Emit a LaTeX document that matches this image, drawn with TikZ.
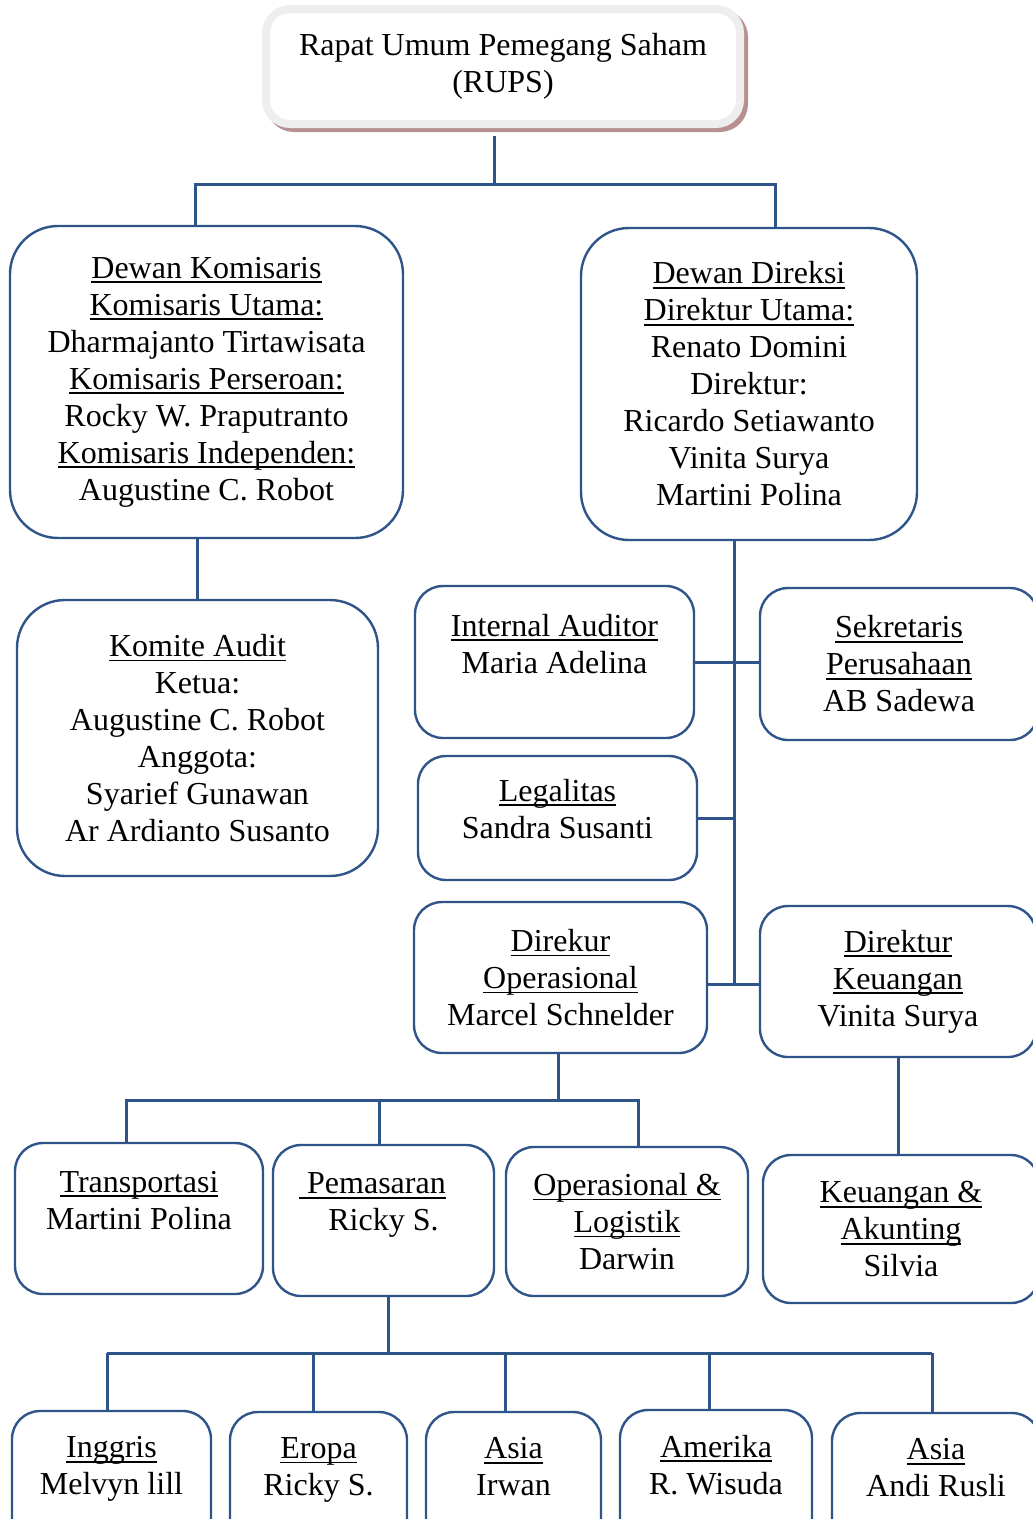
\documentclass[tikz,border=0pt]{standalone}
\usepackage{fontspec}
\setmainfont{Liberation Serif}
\usepackage{tikz}
\usetikzlibrary{shadows}

\definecolor{orgblue}{RGB}{47,84,138}
\definecolor{rupsrim}{RGB}{238,238,238}
\definecolor{rupsshadow}{RGB}{184,144,144}

\newsavebox{\ttlbox}
\newcommand{\ttl}[1]{\sbox{\ttlbox}{#1}\rlap{\rule[-5pt]{\wd\ttlbox}{1.8pt}}\usebox{\ttlbox}}

\tikzset{
  unit/.style={draw=orgblue, line width=2.4pt, fill=white, rounded corners=28pt,
    align=center, inner sep=0pt},
  bigunit/.style={unit, rounded corners=48pt},
  rupsbox/.style={draw=rupsrim, line width=8pt, fill=white, rounded corners=24pt,
    align=center, inner sep=0pt,
    drop shadow={shadow xshift=4pt, shadow yshift=-4pt, draw=rupsshadow,
      line width=8pt, fill=rupsshadow, opacity=1}},
  conn/.style={draw=orgblue, line width=3pt}
}

\begin{document}
\begin{tikzpicture}[x=1pt, y=-1pt, font=\fontsize{32}{37}\selectfont]
    \clip (0,0) rectangle (1033,1519);

    \node [rupsbox, minimum width=474, minimum height=115] (rups) at (503,66.5)
      {Rapat Umum Pemegang Saham\\(RUPS)};

    % boards
    \node [bigunit, minimum width=393, minimum height=312] (komisaris) at (206.5,382)
      {\ttl{Dewan Komisaris}\\\ttl{Komisaris Utama:}\\Dharmajanto Tirtawisata\\
       \ttl{Komisaris Perseroan:}\\Rocky W. Praputranto\\\ttl{Komisaris Independen:}\\
       Augustine C. Robot};
    \node [bigunit, minimum width=336, minimum height=312] (direksi) at (749,384)
      {\ttl{Dewan Direksi}\\\ttl{Direktur Utama:}\\Renato Domini\\Direktur:\\
       Ricardo Setiawanto\\Vinita Surya\\Martini Polina};
    \node [bigunit, minimum width=361, minimum height=276] (komite) at (197.5,738)
      {\ttl{Komite Audit}\\Ketua:\\Augustine C. Robot\\Anggota:\\Syarief Gunawan\\
       Ar Ardianto Susanto};

    % staff of the board of directors
    \node [unit, minimum width=279, minimum height=152] (intaud) at (554.5,662)
      {\ttl{Internal Auditor}\\Maria Adelina\\~};
    \node [unit, minimum width=278, minimum height=152] (sekre) at (899,664)
      {\ttl{Sekretaris}\\\ttl{Perusahaan}\\AB Sadewa};
    \node [unit, minimum width=279, minimum height=124] (legal) at (557.5,818)
      {\ttl{Legalitas}\\Sandra Susanti\\[-18pt]~};
    \node [unit, minimum width=293, minimum height=151] (dirops) at (560.5,977.5)
      {\ttl{Direkur}\\\ttl{Operasional}\\Marcel Schnelder};
    \node [unit, minimum width=276, minimum height=151] (dirkeu) at (898,981.5)
      {\ttl{Direktur}\\\ttl{Keuangan}\\Vinita Surya};

    % departments
    \node [unit, minimum width=248, minimum height=151] (transp) at (139,1218.5)
      {\ttl{Transportasi}\\Martini Polina\\~};
    \node [unit, minimum width=221, minimum height=151] (pemas) at (383.5,1220.5)
      {\ttl{\ Pemasaran}\hspace*{22pt}\\Ricky S.\\~};
    \node [unit, minimum width=242, minimum height=149] (oplog) at (627,1221.5)
      {\ttl{Operasional \&}\\\ttl{Logistik}\\Darwin};
    \node [unit, minimum width=276, minimum height=148] (keuak) at (901,1229)
      {\ttl{Keuangan \&}\\\ttl{Akunting}\\Silvia};

    % regions
    \node [unit, minimum width=199, minimum height=146] (inggris) at (111.5,1484)
      {\ttl{Inggris}\\Melvyn lill\\~};
    \node [unit, minimum width=177, minimum height=146] (eropa) at (318.5,1485)
      {\ttl{Eropa}\\Ricky S.\\~};
    \node [unit, minimum width=175, minimum height=146] (asiaA) at (513.5,1485)
      {\ttl{Asia}\\Irwan\\~};
    \node [unit, minimum width=192, minimum height=146] (amerika) at (716,1483)
      {\ttl{Amerika}\\R. Wisuda\\~};
    \node [unit, minimum width=208, minimum height=146] (asiaB) at (936,1486)
      {\ttl{Asia}\\Andi Rusli\\~};

    % connectors
    \coordinate (j0) at (494,184);
    \coordinate (jK) at (195,184);
    \coordinate (jD) at (775,184);
    \draw [conn, shorten <=8pt] (j0 |- rups.south) -- (j0);
    \draw [conn] (komisaris.north -| jK) -- (jK) -- (jD) -- (direksi.north -| jD);
    \draw [conn] (komite.north |- komisaris.south) -- (komite.north);

    \coordinate (trunk) at (734,984);
    \draw [conn] (trunk |- direksi.south) -- (trunk);
    \draw [conn] (intaud.east) -- (intaud.east -| sekre.west);
    \draw [conn] (legal.east) -- (legal.east -| trunk);
    \draw [conn] (dirops.east |- trunk) -- (dirkeu.west |- trunk);

    \coordinate (jO) at (558,1100);
    \coordinate (jT) at (126,1100);
    \coordinate (jP) at (379,1100);
    \coordinate (jL) at (638,1100);
    \draw [conn] (jO |- dirops.south) -- (jO);
    \draw [conn] (transp.north -| jT) -- (jT) -- (jL) -- (oplog.north -| jL);
    \draw [conn] (jP) -- (pemas.north -| jP);
    \draw [conn] (dirkeu.south) -- (dirkeu.south |- keuak.north);

    \coordinate (jR) at (388,1353);
    \coordinate (jI) at (107,1353);
    \coordinate (jB) at (932,1353);
    \draw [conn] (jR |- pemas.south) -- (jR);
    \draw [conn] (jI) -- (jB);
    \foreach \n/\x in {inggris/107, eropa/313, asiaA/505, amerika/709, asiaB/932}{
      \coordinate (s-\n) at (\x,1353);
      \draw [conn] (s-\n) -- (\n.north -| s-\n);
    }
\end{tikzpicture}
\end{document}
